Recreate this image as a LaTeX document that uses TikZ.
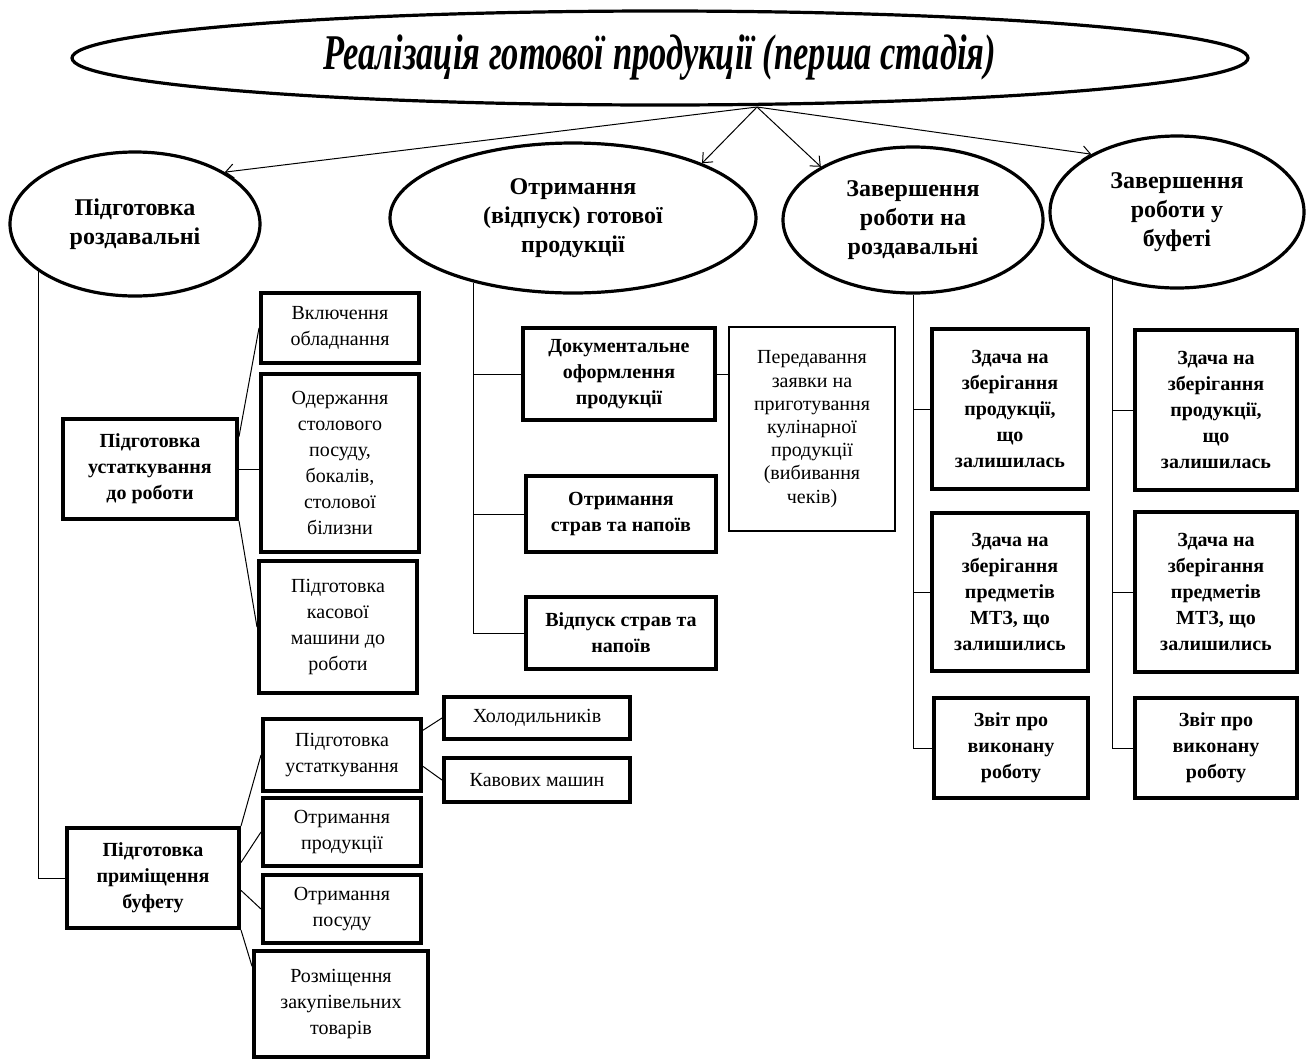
\documentclass[tikz,border=0pt]{standalone}
\usepackage{fontspec}
\setmainfont{Liberation Serif}
\newfontfamily\titlefont[FakeStretch=0.69]{Liberation Serif}
\usetikzlibrary{arrows.meta,shapes.geometric}
\tikzset{
  >={Straight Barb[length=4pt,width=7pt]},
  every node/.style={text=black},
  stage/.style={draw,ellipse,line width=1.6pt,inner sep=0pt,align=center,font=\fontsize{12}{14.5}\selectfont\bfseries},
  box/.style={draw,rectangle,line width=2pt,inner sep=2pt,align=center,font=\fontsize{10}{13}\selectfont},
  boldbox/.style={box,font=\fontsize{10}{13}\selectfont\bfseries},
  thinbox/.style={box,line width=1.3pt,font=\fontsize{10}{11.6}\selectfont},
  link/.style={draw,line width=0.5pt},
  arrow/.style={->,line width=0.5pt},
}
\begin{document}
\begin{tikzpicture}[x=0.5pt,y=-0.5pt]
\useasboundingbox (0,0) rectangle (1306,1061);

\node[stage,minimum width=588pt,minimum height=47pt,font=\titlefont\itshape\bfseries\fontsize{25}{28}\selectfont] (top) at (660,58) {Реалізація готової продукції (перша стадія)};

\node[stage,minimum width=125pt,minimum height=72pt] (prep) at (135,224) {Підготовка\\роздавальні};
\node[stage,minimum width=183pt,minimum height=75pt] (issue) at (573,218) {Отримання\\(відпуск) готової\\продукції};
\node[stage,minimum width=130pt,minimum height=73pt] (endserv) at (913,220) {Завершення\\роботи на\\роздавальні};
\node[stage,minimum width=127pt,minimum height=76pt] (endbuf) at (1177,212) {Завершення\\роботи у\\буфеті};

\node[boldbox,minimum width=87pt,minimum height=50pt] (equip) at (150,469) {Підготовка\\устаткування\\до роботи};
\node[box,minimum width=79pt,minimum height=35pt] (power) at (340,328) {Включення\\обладнання};
\node[box,minimum width=79pt,minimum height=89pt] (dishes) at (340,463) {Одержання\\столового\\посуду,\\бокалів,\\столової\\білизни};
\node[box,minimum width=79pt,minimum height=66pt] (till) at (338,627) {Підготовка\\касової\\машини до\\роботи};

\node[boldbox,minimum width=96pt,minimum height=46pt] (docs) at (619,374) {Документальне\\оформлення\\продукції};
\node[boldbox,minimum width=95pt,minimum height=38pt] (dishin) at (621,514) {Отримання\\страв та напоїв};
\node[boldbox,minimum width=95pt,minimum height=36pt] (dishout) at (621,633) {Відпуск страв та\\напоїв};
\node[thinbox,minimum width=83pt,minimum height=102pt] (order) at (812,429) {Передавання\\заявки на\\приготування\\кулінарної\\продукції\\(вибивання\\чеків)};

\node[boldbox,minimum width=78pt,minimum height=80pt] (s1) at (1010,409) {Здача на\\зберігання\\продукції,\\що\\залишилась};
\node[boldbox,minimum width=78pt,minimum height=79pt] (s2) at (1010,592) {Здача на\\зберігання\\предметів\\МТЗ, що\\залишились};
\node[boldbox,minimum width=77pt,minimum height=50pt] (s3) at (1011,748) {Звіт про\\виконану\\роботу};
\node[boldbox,minimum width=81pt,minimum height=80pt] (f1) at (1216,410) {Здача на\\зберігання\\продукції,\\що\\залишилась};
\node[boldbox,minimum width=81pt,minimum height=80pt] (f2) at (1216,592) {Здача на\\зберігання\\предметів\\МТЗ, що\\залишились};
\node[boldbox,minimum width=81pt,minimum height=50pt] (f3) at (1216,748) {Звіт про\\виконану\\роботу};

\node[boldbox,minimum width=86pt,minimum height=50pt] (room) at (153,878) {Підготовка\\приміщення\\буфету};
\node[box,minimum width=79pt,minimum height=36pt] (bequip) at (342,755) {Підготовка\\устаткування};
\node[box,minimum width=93pt,minimum height=21pt] (fridge) at (537,718) {Холодильників};
\node[box,minimum width=93pt,minimum height=22pt] (coffee) at (537,780) {Кавових машин};
\node[box,minimum width=79pt,minimum height=34pt] (goods) at (342,832) {Отримання\\продукції};
\node[box,minimum width=79pt,minimum height=34pt] (ware) at (342,909) {Отримання\\посуду};
\node[box,minimum width=87pt,minimum height=53pt] (stock) at (341,1004) {Розміщення\\закупівельних\\товарів};

\coordinate (fork) at (757,107);
\draw[arrow] (fork) -- (prep.30);
\draw[arrow] (fork) -- (issue.23);
\draw[arrow] (fork) -- (endserv.150);
\draw[arrow] (fork) -- (endbuf.146);

\draw[link] (prep.206) |- (room.west);
\draw[link] (equip.20) -- (power.west);
\draw[link] (equip.east) -- (equip.east -| dishes.west);
\draw[link] (equip.south east) -- (till.west);

\draw[link] (issue.213) |- (dishout.west);
\draw[link] (docs.west) -- (docs.west -| issue.213);
\draw[link] (dishin.west) -- (dishin.west -| issue.213);
\draw[link] (docs.east) -- (docs.east -| order.west);

\draw[link] (endserv.south) |- (s3.west);
\draw[link] (s1.west) -- (s1.west -| endserv.south);
\draw[link] (s2.west) -- (s2.west -| endserv.south);
\draw[link] (endbuf.226) |- (f3.west);
\draw[link] (f1.west) -- (f1.west -| endbuf.226);
\draw[link] (f2.west) -- (f2.west -| endbuf.226);

\draw[link] (room.north east) -- (bequip.west);
\draw[link] (room.10) -- (goods.west);
\draw[link] (room.-8) -- (ware.west);
\draw[link] (room.south east) -- (stock.157);
\draw[link] (bequip.17) -- (fridge.west);
\draw[link] (bequip.-8) -- (coffee.west);

\end{tikzpicture}
\end{document}
